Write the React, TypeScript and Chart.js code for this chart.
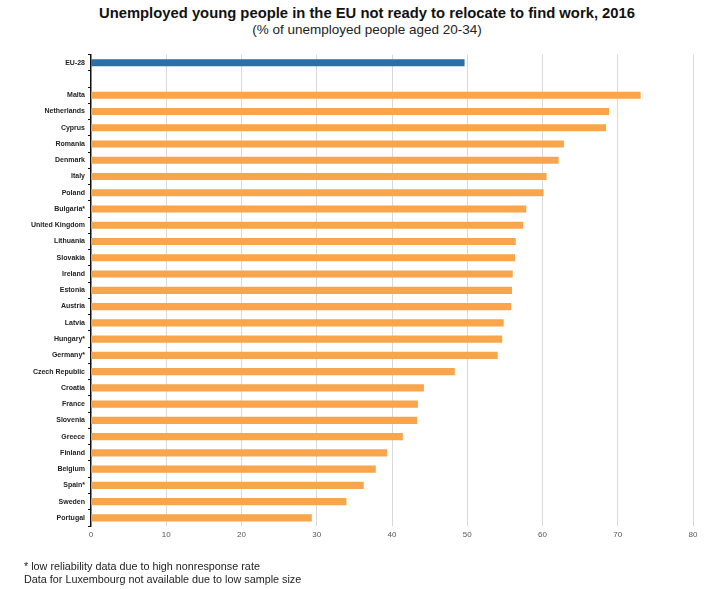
import React, { useEffect, useRef } from "react";
import { Chart, registerables } from "chart.js";

Chart.register(...registerables);

const categories: string[] = [
  "EU-28", "", "Malta", "Netherlands", "Cyprus", "Romania", "Denmark", "Italy", "Poland",
  "Bulgaria*", "United Kingdom", "Lithuania", "Slovakia", "Ireland", "Estonia", "Austria",
  "Latvia", "Hungary*", "Germany*", "Czech Republic", "Croatia", "France", "Slovenia",
  "Greece", "Finland", "Belgium", "Spain*", "Sweden", "Portugal",
];

const values: (number | null)[] = [
  49.6, null, 73.0, 68.8, 68.4, 62.8, 62.1, 60.5, 60.1,
  57.8, 57.4, 56.4, 56.3, 56.0, 55.9, 55.8,
  54.8, 54.6, 54.0, 48.3, 44.2, 43.4, 43.3,
  41.4, 39.3, 37.8, 36.2, 33.9, 29.3,
];

const xTicks: number[] = [0, 10, 20, 30, 40, 50, 60, 70, 80];

const TITLE = "Unemployed young people in the EU not ready to relocate to find work, 2016";
const SUBTITLE = "(% of unemployed people aged 20-34)";
const NOTES: string[] = [
  "* low reliability data due to high nonresponse rate",
  "Data for Luxembourg not available due to low sample size",
];

const BLUE = "#2a6fa9";
const ORANGE = "#f9a54b";
const FONT = "'Liberation Sans', Arial, Helvetica, sans-serif";

export default function App() {
  const ref = useRef<HTMLCanvasElement | null>(null);

  useEffect(() => {
    if (!ref.current) return;
    const chart = new Chart(ref.current, {
      type: "bar",
      data: {
        labels: categories,
        datasets: [
          {
            data: values,
            backgroundColor: categories.map((_, i) => (i === 0 ? BLUE : ORANGE)),
            barThickness: 6.5,
            borderWidth: 0,
          },
        ],
      },
      options: {
        indexAxis: "y",
        animation: false,
        responsive: false,
        maintainAspectRatio: false,
        layout: { padding: { top: 54.6, left: 0, right: 33, bottom: 43 } },
        plugins: {
          legend: { display: false },
          tooltip: { enabled: false },
          title: { display: false },
        },
        scales: {
          x: {
            type: "linear",
            min: 0,
            max: 80,
            afterBuildTicks: (scale: any) => {
              scale.ticks = xTicks.map((v) => ({ value: v }));
            },
            afterFit: (scale: any) => {
              scale.height = 20;
            },
            grid: {
              color: (ctx: any) => (ctx.tick && ctx.tick.value === 0 ? "rgba(0,0,0,0)" : "#d9d9d9"),
              lineWidth: 1,
              drawTicks: false,
            },
            border: { display: false },
            ticks: {
              font: { family: FONT, size: 8 },
              color: "#555",
              padding: 4,
            },
          },
          y: {
            type: "category",
            afterFit: (scale: any) => {
              scale.width = 91;
            },
            grid: {
              drawOnChartArea: false,
              drawTicks: true,
              tickLength: 3,
              color: "#111",
              lineWidth: 1,
              offset: true,
            },
            border: { display: true, color: "#111", width: 1.5 },
            ticks: {
              autoSkip: false,
              font: { family: FONT, size: 7, weight: "bold" },
              color: "#222",
              padding: 3,
            },
          },
        },
      },
    });
    return () => chart.destroy();
  }, []);

  return (
    <div style={{ position: "fixed", left: 0, top: 0, width: 726, height: 589, background: "#fff", fontFamily: FONT }}>
      <div style={{ position: "absolute", left: 0, width: 726, top: 5, textAlign: "center", fontWeight: "bold", fontSize: 14.8, color: "#111", lineHeight: "16px", paddingLeft: 8, boxSizing: "border-box" }}>
        {TITLE}
      </div>
      <div style={{ position: "absolute", left: 0, width: 726, top: 23, textAlign: "center", fontSize: 13.5, color: "#222", lineHeight: "14px", paddingLeft: 8, boxSizing: "border-box" }}>
        {SUBTITLE}
      </div>
      <canvas ref={ref} width={726} height={589} style={{ position: "absolute", left: 0, top: 0, width: 726, height: 589 }} />
      <div style={{ position: "absolute", left: 24, top: 560, fontSize: 10.8, color: "#222", lineHeight: "12.5px" }}>
        {NOTES.map((n, i) => (
          <div key={i}>{n}</div>
        ))}
      </div>
    </div>
  );
}
